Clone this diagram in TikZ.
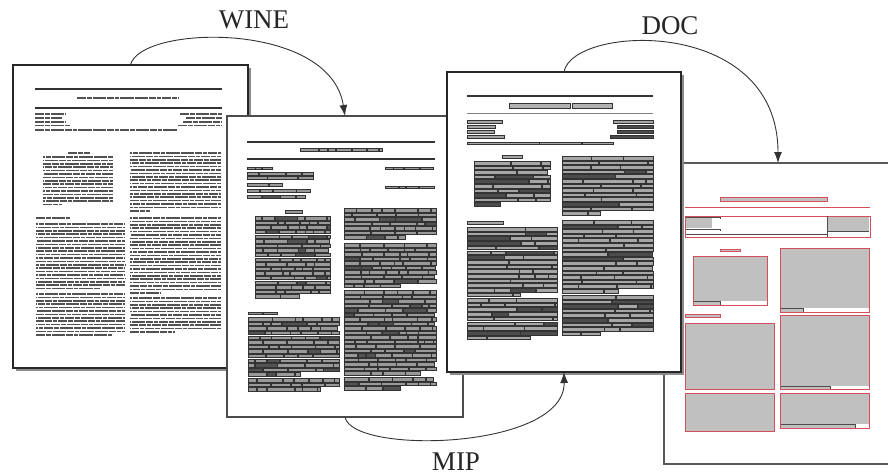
\documentclass[tikz,border=0pt]{standalone}
\usepackage{fontspec}
\setmainfont{Liberation Serif}
\usetikzlibrary{arrows.meta}
\definecolor{redc}{RGB}{212,78,92}
\definecolor{grayc}{RGB}{192,192,192}
\tikzset{
  x=1pt, y=-1pt,
  page/.style={draw=black!85, fill=white, line width=1.5pt, inner sep=0pt, outer sep=0pt},
  lab/.style={font=\fontsize{27}{30}\selectfont, text=black!85, inner sep=0pt},
  conn/.style={draw=black!80, line width=0.9pt, -{Latex[length=11pt,width=8pt]}},
  rulel/.style={draw=black!80, line width=1.1pt},
  ptext/.style={draw=black!68, line width=1.5pt, dash pattern=on 9pt off 0.9pt on 5pt off 0.9pt on 13pt off 0.9pt on 7pt off 0.9pt on 4pt off 0.9pt},
  wbox/.style={draw=black!80, line width=0.35pt},
  rbox/.style={draw=redc, line width=0.9pt, fill=grayc},
}
% plain greeked text paragraph: x0 x1 ytop nfull spacing lastx
\newcommand\tpara[6]{%
  \foreach \j in {1,...,#4}{\draw[ptext, dash phase=\j*7pt] (#1,#3+\j*#5-#5) -- (#2,#3+\j*#5-#5);}%
  \draw[ptext] (#1,#3+#4*#5) -- (#6,#3+#4*#5);%
}
% word-box line: x0 x1 y h minw rangew
\def\wlo{40}\def\whi{68}\def\wprob{0.1}
\newcommand\wline[6]{%
  \pgfmathsetmacro\wcx{#1}%
  \loop
    \pgfmathsetmacro\wnx{min(\wcx+#5+rnd*#6,#2)}%
    \pgfmathtruncatemacro\wsh{rnd<\wprob ? \whi : \wlo}%
    \filldraw[wbox, fill=black!\wsh] (\wcx,#3-#4/2) rectangle (\wnx,#3+#4/2);
    \pgfmathsetmacro\wcx{\wnx+0.7}%
  \ifdim\wcx pt<\dimexpr#2pt-2pt\relax
  \repeat
}
% word-box paragraph: x0 x1 ytop nfull spacing lastx h minw rangew
\newcommand\wpara[9]{%
  \foreach \j in {1,...,#4}{\wline{#1}{#2}{#3+\j*#5-#5}{#7}{#8}{#9}}%
  \wline{#1}{#6}{#3+#4*#5}{#7}{#8}{#9}%
}
\begin{document}
\begin{tikzpicture}
\pgfmathsetseed{7}
\useasboundingbox (0,0) rectangle (888,475);
\fill[white] (0,0) rectangle (888,475);

% ---------------- page 1 ----------------
\fill[black!45] (15.5,67.5) rectangle (250.5,370.5);
\node[page, minimum width=235, minimum height=303] (p1) at (130.5,216.5) {};
\draw[rulel] (35,89) -- (222,89);
\draw[ptext, line width=1.6pt] (77,98) -- (178,98);
\draw[rulel, line width=1.3pt] (35,108) -- (222,108);
\draw[ptext, line width=1.2pt] (35,114) -- (66,114);
\draw[ptext, line width=1.2pt] (35,118) -- (62,118);
\draw[ptext, line width=1.2pt] (35,122) -- (65,122);
\draw[ptext, line width=1.2pt] (35,125.5) -- (70,125.5);
\draw[ptext, line width=1.2pt] (180,114) -- (222,114);
\draw[ptext, line width=1.2pt] (186,118) -- (222,118);
\draw[ptext, line width=1.2pt] (183,122) -- (222,122);
\draw[ptext, line width=1.2pt] (178,125.5) -- (222,125.5);
\draw[ptext, line width=1.5pt] (35,130) -- (178,130);
\draw[ptext, line width=1.1pt] (68,153) -- (90,153);
\tpara{43}{113}{157}{14}{3.4}{62}
\tpara{130}{221}{153}{17}{3.4}{150}
\tpara{130}{221}{218}{22}{3.4}{160}
\tpara{130}{221}{298}{10}{3.4}{175}
\draw[ptext, line width=1.5pt] (36,218) -- (70,218);
\tpara{36}{125}{224}{19}{3.4}{100}
\tpara{36}{125}{294}{12}{3.4}{112}

% ---------------- page 2 ----------------
\node[page, draw=black!70, line width=1.2pt, minimum width=236, minimum height=301] (p2) at (345,266.5) {};
\draw[rulel] (247,142) -- (435,142);
\wline{300}{382}{150}{3.2}{6}{14}
\draw[rulel, line width=1.7pt] (247,159) -- (435,159);
\wline{247}{272}{168}{2.2}{5}{8}
\wline{247}{313}{174}{3}{10}{20}
\wline{247}{313}{178}{3}{10}{20}
\wline{247}{282}{185}{3}{8}{15}
\wline{247}{310}{191}{3}{8}{15}
\wline{247}{305}{197}{3}{8}{15}
\wline{385}{435}{168}{2.2}{6}{10}
\wline{385}{435}{187}{2.2}{6}{10}
\wline{285}{302}{212}{3}{20}{1}
\wpara{255}{330}{218}{17}{4.6}{300}{3.4}{6}{20}
\wpara{344}{436}{210}{6}{4.5}{405}{3.4}{6}{22}
\wpara{344}{436}{245}{9}{4.5}{400}{3.4}{6}{22}
\wpara{344}{436}{292}{18}{4.5}{420}{3.4}{6}{22}
\wpara{344}{436}{379}{2}{4.5}{400}{3.4}{6}{22}
\wline{248}{278}{313}{2.6}{6}{10}
\wpara{248}{339}{319}{12}{4.6}{300}{3.4}{6}{22}
\wpara{248}{339}{380}{2}{4.6}{320}{3.4}{6}{22}

% ---------------- page 4 ----------------
\node[page, draw=black!65, line width=1.2pt, minimum width=228, minimum height=301] (p4) at (778,313.5) {};
\filldraw[rbox] (720,197) rectangle (827,201);
\draw[redc, line width=0.9pt] (685,207) -- (870,207);
\draw[redc, line width=0.9pt, fill=white] (685,216) rectangle (870,237);
\fill[grayc] (686,217) rectangle (712,228);
\fill[grayc] (827,217) rectangle (869,231);
\draw[black!70, line width=0.6pt] (686,217.5) -- (720,217.5) -- (720,219);
\draw[black!70, line width=0.6pt] (686,229) -- (720,229) -- (720,231);
\draw[black!70, line width=0.6pt] (686,234.5) -- (827,234.5);
\draw[black!70, line width=0.6pt] (827,216) -- (827,237);
\draw[black!70, line width=0.6pt] (827,231) -- (869,231);
\filldraw[rbox, line width=0.6pt] (720,249) rectangle (740,251);
\filldraw[rbox] (693,256) rectangle (767,305);
\fill[white] (720,301) rectangle (766.5,304.5);
\draw[black!70, line width=0.6pt] (694,301) -- (720,301) -- (720,304.5);
\filldraw[rbox] (780,248) rectangle (869,312);
\fill[white] (803,308) rectangle (868.5,311.5);
\draw[black!70, line width=0.6pt] (781,308) -- (803,308) -- (803,311.5);
\filldraw[rbox, line width=0.6pt] (685,314.5) rectangle (720,317.5);
\filldraw[rbox] (685,323) rectangle (774,389);
\filldraw[rbox] (685,393) rectangle (774,431);
\filldraw[rbox] (780,315) rectangle (869,389);
\fill[white] (830,386) rectangle (868.5,388.5);
\draw[black!70, line width=0.6pt] (781,386) -- (830,386) -- (830,388.5);
\filldraw[rbox] (780,393) rectangle (869,428);
\fill[white] (855,424) rectangle (868.5,427.5);
\draw[black!70, line width=0.6pt] (781,424) -- (855,424) -- (855,427.5);

% ---------------- page 3 ----------------
\fill[black!45] (449.5,74.5) rectangle (683.5,374.5);
\node[page, minimum width=234, minimum height=300] (p3) at (564,222) {};
\def\wlo{35}\def\whi{70}\def\wprob{0.17}
\draw[rulel] (467,96) -- (653,96);
\filldraw[wbox, fill=black!30, line width=0.6pt] (509,103) rectangle (570,108);
\filldraw[wbox, fill=black!30, line width=0.6pt] (572,103) rectangle (612,108);
\draw[black!50, line width=0.8pt] (467,113) -- (653,113);
\wline{467}{502}{122}{3}{40}{1}
\wline{467}{495}{127}{3}{40}{1}
\wline{467}{494}{132}{3}{40}{1}
\wline{467}{504}{137}{3}{40}{1}
\wline{613}{653}{122}{3}{50}{1}
\wline{617}{653}{127}{3}{50}{1}
\wline{617}{653}{132}{3}{50}{1}
\wline{610}{653}{137}{3}{50}{1}
\wline{467}{613}{143}{2.6}{40}{40}
\wline{502}{522}{157}{3}{30}{1}
\wpara{474}{550}{163}{9}{4.6}{500}{3.6}{12}{45}
\wpara{562}{653}{158}{12}{4.6}{600}{3.6}{12}{50}
\wpara{562}{653}{222}{15}{4.6}{620}{3.6}{12}{50}
\wpara{562}{653}{297}{8}{4.6}{600}{3.6}{12}{50}
\wline{467}{503}{223}{3}{40}{1}
\wpara{467}{557}{229}{14}{4.7}{520}{3.6}{12}{50}
\wpara{467}{557}{300}{8}{4.7}{530}{3.6}{12}{50}

% ---------------- labels and connectors ----------------
\node[lab] (wine) at (254,19.5) {WINE};
\node[lab] (doc) at (670,25.5) {DOC};
\node[lab] (mip) at (456,461.5) {MIP};
\draw[conn] (p1.north) .. controls +(9,-40) and +(-15,-96) .. (p2.north);
\draw[conn] (p3.north) .. controls +(8,-47) and +(0,-148) .. (p4.north);
\draw[conn] (p2.south) .. controls +(7,38) and +(1,78) .. (p3.south);
\end{tikzpicture}
\end{document}
